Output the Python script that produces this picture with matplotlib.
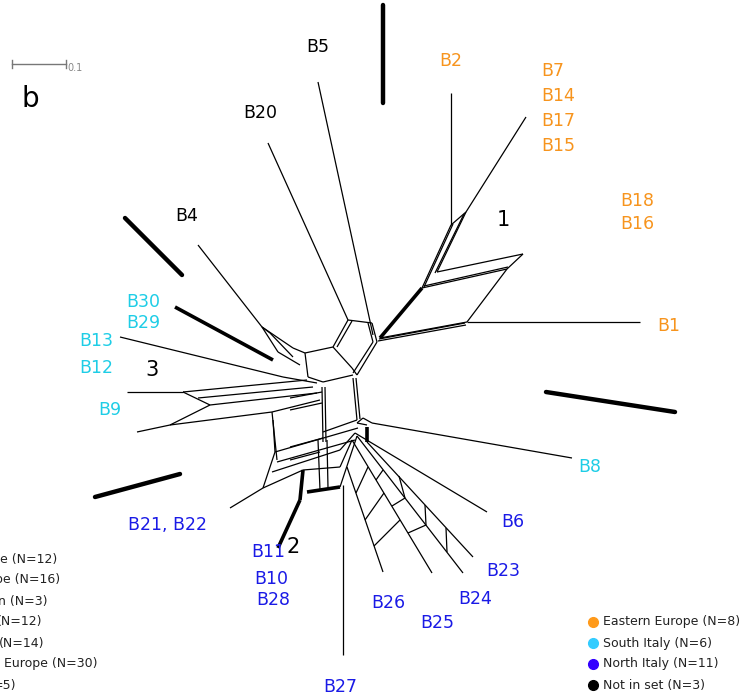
import matplotlib
matplotlib.use("Agg")
import matplotlib.pyplot as plt

# ---------------- data ----------------
# network edges in image coordinates (x1, y1, x2, y2)
thin_edges = [
    # group 1
    (451, 93, 451, 225), (526, 117, 466, 212),
    (451, 225, 466, 212), (451, 225, 422, 288), (466, 212, 437, 272),
    (453, 224, 424, 287), (464, 214, 435, 273),
    (437, 272, 523, 254), (422, 288, 507, 269), (424, 286, 508, 267),
    (523, 254, 507, 269),
    (507, 269, 467, 322), (467, 322, 640, 322),
    (467, 322, 380, 338), (466, 325, 378, 341), (465, 323, 379, 339),
    # top centre
    (318, 82, 373, 335), (268, 143, 348, 320),
    # centre box
    (348, 320, 372, 323), (348, 320, 333, 347), (352, 321, 337, 347),
    (333, 347, 305, 353), (305, 353, 293, 348), (293, 348, 262, 327),
    (372, 323, 377, 342), (368, 323, 373, 342), (377, 342, 357, 375),
    (373, 342, 353, 373),
    (305, 353, 308, 377), (308, 377, 323, 382),
    (333, 347, 352, 368), (352, 368, 357, 375),
    (323, 382, 353, 375),
    (353, 378, 357, 420), (356, 378, 360, 419),
    (322, 387, 323, 442), (325, 387, 326, 442),
    (290, 398, 322, 392), (290, 410, 322, 403),
    (323, 432, 357, 420), (290, 447, 323, 438), (290, 460, 320, 452),
    # group 3
    (198, 245, 262, 327), (262, 327, 278, 352), (262, 327, 270, 333),
    (270, 333, 293, 357), (278, 352, 300, 365),
    (120, 337, 283, 377), (283, 377, 317, 383),
    (127, 392, 183, 392), (183, 392, 307, 380), (183, 392, 210, 405),
    (210, 405, 317, 393), (198, 398, 313, 387),
    (137, 432, 170, 425), (170, 425, 210, 405), (170, 425, 272, 412),
    (272, 412, 320, 400), (272, 412, 277, 460),
    # lower left lattice
    (273, 420, 275, 452), (275, 452, 263, 488), (230, 508, 263, 488),
    (275, 452, 358, 428), (277, 462, 355, 440), (272, 472, 340, 450),
    (263, 488, 303, 470), (303, 470, 340, 467),
    (318, 440, 320, 490), (327, 440, 328, 488),
    (340, 487, 357, 436), (340, 450, 355, 433), (340, 467, 352, 440),
    # B8
    (357, 423, 363, 418), (363, 418, 372, 423), (367, 425, 357, 423),
    (372, 423, 572, 458),
    # group 2 fan
    (355, 433, 487, 512), (367, 442, 473, 557), (357, 436, 463, 573),
    (352, 440, 432, 573), (347, 467, 383, 572),
    (368, 467, 356, 493), (384, 493, 365, 520), (400, 520, 374, 546),
    (383, 470, 376, 480), (405, 498, 392, 506), (426, 525, 408, 533),
    (399, 476, 405, 498), (425, 505, 426, 525), (446, 528, 447, 552),
    (343, 485, 343, 655),
]
thick_edges = [
    (380, 338, 422, 288),
    (175, 307, 273, 360),
    (278, 548, 300, 500), (300, 500, 303, 470),
    (307, 492, 340, 487),
    (367, 427, 367, 442),
]
delimiters = [
    (383, 5, 383, 103), (125, 218, 182, 275),
    (546, 392, 675, 412), (95, 497, 180, 474),
]

orange, cyan, blue = "#F7941D", "#1ECDE6", "#1A1AE6"
label_text = ["B5", "B20", "B4", "B2", "B7", "B14", "B17", "B15", "B18", "B16",
              "B1", "B30", "B29", "B13", "B12", "B9", "B8", "B21, B22",
              "B11", "B10", "B28", "B26", "B25", "B24", "B23", "B6", "B27"]
label_x = [318, 260, 187, 451, 553, 558, 558, 558, 637, 637,
           669, 143, 143, 96, 96, 110, 590, 168,
           268, 271, 273, 388, 437, 475, 503, 513, 340]
label_y = [47, 113, 216, 61, 71, 96, 121, 146, 201, 224,
           326, 302, 323, 341, 368, 410, 467, 525,
           552, 579, 600, 603, 623, 599, 571, 522, 687]
label_col = ["k", "k", "k", orange, orange, orange, orange, orange, orange, orange,
             orange, cyan, cyan, cyan, cyan, cyan, cyan, blue,
             blue, blue, blue, blue, blue, blue, blue, blue, blue]

group_names = ["1", "2", "3"]
group_x = [503, 293, 152]
group_y = [220, 547, 370]

legend_labels = ["Eastern Europe (N=8)", "South Italy (N=6)",
                 "North Italy (N=11)", "Not in set (N=3)"]
legend_colors = ["#FF9A1A", "#33CCFF", "#3300FF", "#000000"]
legend_y = [622, 643, 664, 685]

left_legend = ["e (N=12)", "pe (N=16)", "n (N=3)", "(N=12)", "(N=14)",
               " Europe (N=30)", "=5)"]
left_legend_y = [559, 580, 601, 622, 643, 664, 686]
left_legend_right = [57, 60, 47, 42, 44, 98, 16]

# ---------------- figure ----------------
fig = plt.figure(figsize=(7.47, 6.96), dpi=100)
ax = fig.add_axes([0, 0, 1, 1])
ax.set_xlim(0, 747)
ax.set_ylim(696, 0)
ax.axis("off")

for x1, y1, x2, y2 in thin_edges:
    ax.plot([x1, x2], [y1, y2], color="k", lw=0.9, solid_capstyle="butt")
for x1, y1, x2, y2 in thick_edges:
    ax.plot([x1, x2], [y1, y2], color="k", lw=2.6, solid_capstyle="butt")
for x1, y1, x2, y2 in delimiters:
    ax.plot([x1, x2], [y1, y2], color="k", lw=3.2, solid_capstyle="round")

for t, x, y, c in zip(label_text, label_x, label_y, label_col):
    ax.text(x, y, t, color=c, fontsize=12.5, ha="center", va="center")
for t, x, y in zip(group_names, group_x, group_y):
    ax.text(x, y, t, color="k", fontsize=15, ha="center", va="center")

# scale bar
ax.plot([12, 66], [64, 64], color="#777777", lw=1)
ax.plot([12, 12], [60, 68], color="#777777", lw=1)
ax.plot([66, 66], [60, 68], color="#777777", lw=1)
ax.text(67, 68, "0.1", color="#888888", fontsize=7, ha="left", va="center")
ax.text(30, 99, "b", color="k", fontsize=20, ha="center", va="center")

for t, c, y in zip(legend_labels, legend_colors, legend_y):
    ax.plot(593, y, "o", color=c, ms=7)
    ax.text(603, y, t, color="#222222", fontsize=9, ha="left", va="center")
for t, y, xr in zip(left_legend, left_legend_y, left_legend_right):
    ax.text(xr, y, t, color="#222222", fontsize=9, ha="right", va="center")

fig.savefig("out.png", dpi=100)
